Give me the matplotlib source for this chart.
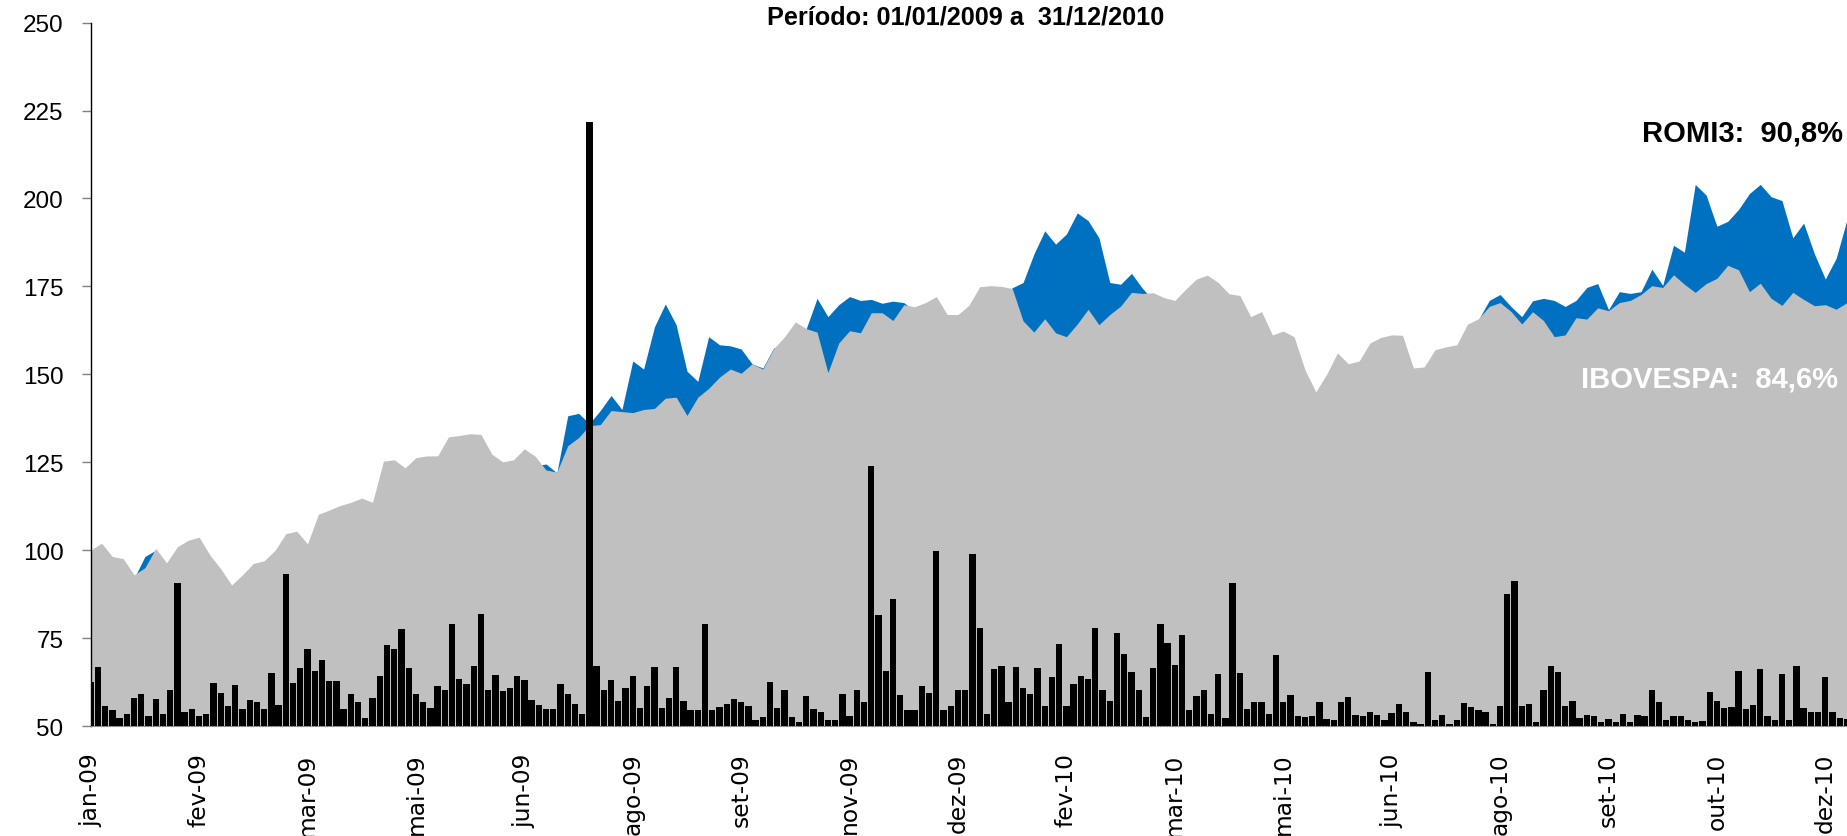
import matplotlib
matplotlib.use('Agg')
import matplotlib.pyplot as plt
import numpy as np

# ---------------- data ----------------
meses = ['jan-09', 'fev-09', 'mar-09', 'mai-09', 'jun-09', 'ago-09', 'set-09', 'nov-09',
         'dez-09', 'fev-10', 'mar-10', 'mai-10', 'jun-10', 'ago-10', 'set-10', 'out-10', 'dez-10']
pregao_por_rotulo = 30      # trading days between two axis labels
passo_linha = 3             # trading days between two points of the index series
passo_volume = 2            # trading days between two volume bars

# IBOVESPA (base 100), every 3 trading days
ibov = [100, 102, 98.2, 97.6, 93, 95, 100.5, 96.4, 101, 102.8, 103.7, 98.6, 94.7, 90.1, 93, 96.2,
        97, 99.9, 104.7, 105.4, 101.8, 110.2, 111.4, 112.7, 113.6, 114.8, 113.6, 125.3, 125.7, 123.4,
        126.3, 126.8, 126.8, 132.2, 132.6, 133.1, 132.9, 127.3, 125.1, 125.7, 128.8, 126.7, 122.8,
        122.2, 129.7, 132, 135.4, 135.7, 139.7, 139.4, 139.1, 140, 140.3, 143.2, 143.5, 138.3, 143.5,
        146, 149.2, 151.5, 150.3, 153, 151.5, 157.3, 160.7, 164.9, 163, 162, 150.5, 158.9, 162.4,
        161.8, 167.5, 167.5, 165.3, 169.8, 169.2, 170.4, 172.1, 167, 167, 169.6, 174.9, 175.2, 175,
        174.4, 165.2, 162, 165.8, 161.8, 160.7, 164.3, 168.5, 164.1, 167, 169.4, 173.3, 173, 173.2,
        171.8, 171, 174.2, 177.1, 178.2, 176.1, 172.9, 172.4, 166.4, 167.8, 161.2, 162.3, 160.7,
        151.3, 145, 150, 156.1, 153, 153.8, 158.9, 160.5, 161.2, 161.1, 151.8, 152.1, 157, 157.8,
        158.4, 164.3, 165.8, 169.3, 170.4, 167.9, 164.3, 167.8, 165.3, 160.7, 161.2, 166.1, 165.7,
        168.9, 168.1, 170.4, 171, 172.7, 175.2, 174.7, 178.3, 175.6, 173.3, 175.8, 177.3, 181, 179.7,
        173.5, 175.9, 171.6, 169.6, 173.3, 171.3, 169.5, 169.8, 168.5, 170.4]

# ROMI3 (base 100), every 3 trading days
romi = [99, 100, 96, 95, 92, 98.2, 100, 94, 98, 100, 101, 96, 92, 88, 90, 93,
        94, 97, 101, 102, 99, 106, 108, 109, 110, 111, 110, 120, 121, 119,
        121, 122, 122, 127, 128, 129, 128, 123, 121, 122, 125, 124, 124.5,
        122, 138.2, 138.9, 136, 139.7, 144, 140, 153.8, 151.5, 163.5, 170, 164.1, 150.9, 148,
        160.7, 158.4, 158.1, 157.2, 153, 151.8, 157.5, 158, 162, 163, 171.6, 166.4, 169.8, 172.1,
        171, 171.3, 170.2, 170.8, 170.4, 168, 168.5, 170, 165, 165, 167, 172, 173, 172.5,
        174.6, 176.1, 184.2, 190.8, 187, 189.9, 195.9, 193.7, 188.8, 176.1, 175.6, 178.7, 174.5, 171,
        169, 168.5, 172, 175, 176, 174, 171, 170.5, 164, 165, 159, 160, 158,
        149, 143, 148, 154, 151, 152, 157, 158.5, 159, 159, 150, 150, 155, 156,
        156.5, 162.5, 165.5, 171, 172.7, 169.3, 166.4, 170.9, 171.6, 171, 169.3, 171, 174.7,
        175.8, 168.4, 173.5, 173, 173.5, 179.9, 175.3, 186.7, 184.7, 204, 201, 192.1, 193.5, 196.9,
        201.4, 204, 200.5, 199.4, 188.8, 193, 184.2, 177.1, 183, 194]

# traded volume (drawn on the same scale, from the 50 floor), every 2 trading days
volume = [62.6, 66.9, 55.7, 54.6, 52.3, 53.4, 58, 59.2, 52.9, 57.8, 53.4, 60.3, 90.7, 54, 54.8, 52.9,
          53.4, 62.3, 59.5, 55.7, 61.8, 54.9, 57.5, 56.7, 54.8, 65.1, 56.1, 93.3, 62.3, 66.4, 71.8,
          65.7, 68.9, 62.8, 62.8, 54.9, 59.2, 56.7, 52.3, 58, 64.3, 72.9, 71.8, 77.5, 66.4, 59.2,
          56.7, 55.2, 61.5, 60.1, 79, 63.5, 62, 67, 81.8, 60.1, 64.6, 60, 60.7, 64.3, 63.2, 57.3,
          56, 54.8, 54.8, 62, 59.2, 56.3, 53.4, 221.8, 67, 60.3, 63, 57.1, 60.9, 64.1, 55.2, 61.5,
          66.9, 55.2, 58, 66.9, 57.2, 54.6, 54.6, 78.9, 54.6, 55.5, 56.3, 57.8, 56.9, 55.7, 51.7,
          52.5, 62.6, 55.2, 60.3, 52.5, 51.1, 58.6, 54.8, 54, 51.7, 51.7, 59.2, 52.9, 60.1, 56.7,
          124, 81.5, 65.7, 86.1, 58.8, 54.6, 54.6, 61.5, 59.5, 99.9, 54.6, 55.7, 60.1, 60.1, 99,
          77.8, 53.4, 66.1, 67.2, 56.7, 66.9, 60.9, 59.2, 66.4, 55.7, 63.8, 73.2, 55.7, 62, 64.1,
          63.5, 77.9, 60.3, 57.1, 76.4, 70.4, 65.3, 60.1, 52.5, 66.4, 79, 73.7, 67.4, 75.8, 54.6,
          58.6, 60.1, 53.4, 64.7, 52.3, 90.7, 65.1, 54.9, 56.7, 56.7, 53.4, 70.3, 56.7, 58.8, 52.9,
          52.5, 52.9, 56.9, 52, 51.7, 56.7, 58.3, 53.2, 52.9, 54, 53.1, 51.7, 53.8, 56.3, 54, 51.1,
          50.6, 65.3, 51.7, 53.2, 50.6, 51.7, 56.5, 55.4, 54.6, 54, 50.6, 55.7, 87.5, 91.1, 55.7,
          56.3, 51.1, 60.3, 67.2, 65.5, 55.7, 57.1, 52.3, 53.1, 52.9, 51.1, 52, 51.1, 53.4, 51.1,
          53.1, 52.9, 60.3, 56.7, 51.7, 52.9, 52.9, 51.7, 51.1, 51.4, 59.7, 57.1, 55.2, 55.4, 65.7,
          54.9, 56.1, 66.1, 52.9, 51.7, 64.9, 51.7, 67.2, 55.2, 54, 54, 63.8, 54, 52.3, 51.9]

y_ticks = [50, 75, 100, 125, 150, 175, 200, 225, 250]
titulo = 'Período: 01/01/2009 a  31/12/2010'
rotulo_romi = 'ROMI3:  90,8%'
rotulo_ibov = 'IBOVESPA:  84,6%'

# ---------------- drawing ----------------
AZUL = '#0070C0'
CINZA = '#C0C0C0'
base = 50

fig = plt.figure(figsize=(18.47, 8.37), dpi=100)
ax = fig.add_axes([0.0491, 0.1314, 0.9509, 0.8404])

x_l = np.arange(len(ibov)) * passo_linha
ax.fill_between(x_l, base, romi, color=AZUL, lw=0, zorder=1)
ax.fill_between(x_l, base, ibov, color=CINZA, lw=0, zorder=2)

x_v = np.arange(len(volume)) * passo_volume
ax.bar(x_v, np.array(volume) - base, bottom=base, width=1.75, color='black', lw=0, zorder=3)

ax.set_xlim(0, 486)
ax.set_ylim(50, 250)

for s in ['top', 'right']:
    ax.spines[s].set_visible(False)
ax.spines['left'].set_color('black')
ax.spines['left'].set_linewidth(1.0)
ax.spines['bottom'].set_color('#808080')
ax.spines['bottom'].set_linestyle(':')
ax.spines['bottom'].set_zorder(4)

ax.set_yticks(y_ticks)
ax.set_yticklabels([str(v) for v in y_ticks], fontfamily='Liberation Sans', fontsize=17.5)
ax.tick_params(axis='y', direction='out', length=6.5, width=1, color='#808080', pad=13)

ax.set_xticks(np.arange(len(meses)) * pregao_por_rotulo)
ax.set_xticklabels(meses, rotation=90, fontfamily='DejaVu Sans', fontsize=16.8, va='top', ha='center')
ax.tick_params(axis='x', length=0, pad=19)

fig.text(0.523, 0.9785, titulo, ha='center', va='center', fontweight='bold', fontsize=18.2,
         fontfamily='Liberation Sans')
ax.text(0.998, 0.841, rotulo_romi, transform=fig.transFigure, ha='right', va='center',
        fontweight='bold', fontsize=21, fontfamily='Liberation Sans', color='black', zorder=5)
ax.text(0.995, 0.547, rotulo_ibov, transform=fig.transFigure, ha='right', va='center',
        fontweight='bold', fontsize=21, fontfamily='Liberation Sans', color='white', zorder=5)

fig.savefig('out.png', dpi=100)
